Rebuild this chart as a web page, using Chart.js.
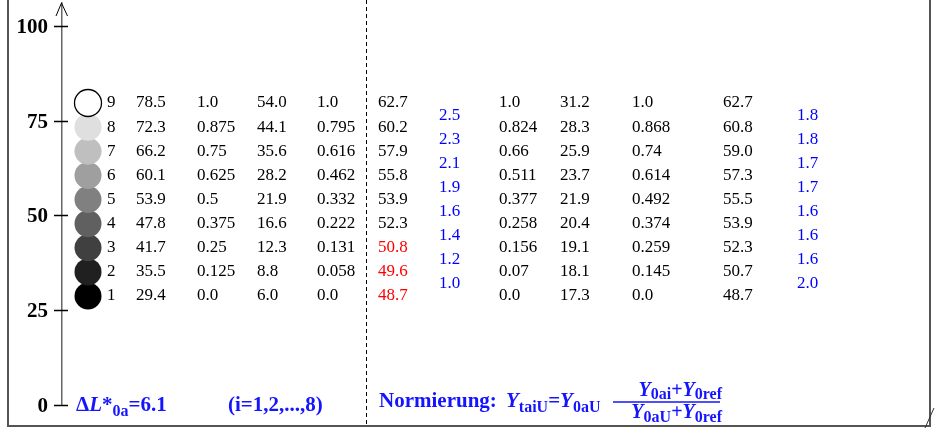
<!DOCTYPE html>
<html lang="de">
<head>
<meta charset="UTF-8">
<title>Graustufen 1 bis 9</title>
<script src="https://cdn.jsdelivr.net/npm/chart.js"></script>
<style>
  html, body { margin: 0; padding: 0; background: #fff; }
  #wrap { width: 936px; height: 428px; position: relative; }
</style>
</head>
<body>
<div id="wrap"><canvas id="chart"></canvas></div>
<script>
// --- data (row 1 = black ... row 9 = white) ---
const steps   = [1, 2, 3, 4, 5, 6, 7, 8, 9];
const lStar   = [29.4, 35.5, 41.7, 47.8, 53.9, 60.1, 66.2, 72.3, 78.5];
const grayRel = [0.0, 0.125, 0.25, 0.375, 0.5, 0.625, 0.75, 0.875, 1.0];
const yVal    = [6.0, 8.8, 12.3, 16.6, 21.9, 28.2, 35.6, 44.1, 54.0];
const yRel    = [0.0, 0.058, 0.131, 0.222, 0.332, 0.462, 0.616, 0.795, 1.0];
const lStarA  = [48.7, 49.6, 50.8, 52.3, 53.9, 55.8, 57.9, 60.2, 62.7];
const diffA   = [1.0, 1.2, 1.4, 1.6, 1.9, 2.1, 2.3, 2.5];
const yRelB   = [0.0, 0.07, 0.156, 0.258, 0.377, 0.511, 0.66, 0.824, 1.0];
const yValB   = [17.3, 18.1, 19.1, 20.4, 21.9, 23.7, 25.9, 28.3, 31.2];
const yRelC   = [0.0, 0.145, 0.259, 0.374, 0.492, 0.614, 0.74, 0.868, 1.0];
const lStarC  = [48.7, 50.7, 52.3, 53.9, 55.5, 57.3, 59.0, 60.8, 62.7];
const diffC   = [2.0, 1.6, 1.6, 1.6, 1.7, 1.7, 1.8, 1.8];
const yTicks  = [0, 25, 50, 75, 100];
const redRows = 3; // lowest three rows of lStarA are red

// --- layout ---
const serif = "'Liberation Serif', 'Times New Roman', serif";
const blue = '#1414ff';
const circleX = 88;
const rowMin = -3.517, rowMax = 13.146;

function fmt1(v) { return v.toFixed(1); }
function fmtRel(v) { return Number.isInteger(v) ? v.toFixed(1) : String(v); }
function grey(g) { const c = Math.round(g * 255); return `rgb(${c},${c},${c})`; }

const columns = [
  { x: 107, vals: steps,   f: String },
  { x: 136, vals: lStar,   f: fmt1 },
  { x: 197, vals: grayRel, f: fmtRel },
  { x: 257, vals: yVal,    f: fmt1 },
  { x: 317, vals: yRel,    f: fmtRel },
  { x: 378, vals: lStarA,  f: fmt1, red: true },
  { x: 499, vals: yRelB,   f: fmtRel },
  { x: 560, vals: yValB,   f: fmt1 },
  { x: 632, vals: yRelC,   f: fmtRel },
  { x: 723, vals: lStarC,  f: fmt1 }
];
const diffColumns = [
  { x: 439, vals: diffA },
  { x: 797, vals: diffC }
];

function runsWidth(ctx, runs) {
  let w = 0;
  for (const r of runs) { ctx.font = r.font; w += ctx.measureText(r.t).width; }
  return w;
}
function drawRuns(ctx, x, y, runs) {
  for (const r of runs) {
    ctx.font = r.font;
    ctx.fillText(r.t, x, y + (r.dy || 0));
    x += ctx.measureText(r.t).width;
  }
  return x;
}

const B21 = `bold 21px ${serif}`, BI21 = `italic bold 21px ${serif}`;
const B20 = `bold 20px ${serif}`, BI20 = `italic bold 20px ${serif}`;
const B16 = `bold 16px ${serif}`;

const overlay = {
  id: 'overlay',
  beforeDraw(chart) {
    const ctx = chart.ctx;
    ctx.save();
    // open frame
    ctx.strokeStyle = '#555';
    ctx.lineWidth = 2;
    ctx.beginPath();
    ctx.moveTo(8, 0); ctx.lineTo(8, 426); ctx.lineTo(930, 426); ctx.lineTo(930, 0);
    ctx.stroke();
    ctx.lineWidth = 1;
    ctx.strokeStyle = '#333';
    ctx.beginPath(); ctx.moveTo(934, 408); ctx.lineTo(925, 428); ctx.stroke();
    // dashed divider
    ctx.strokeStyle = '#000';
    ctx.setLineDash([4, 3]);
    ctx.beginPath(); ctx.moveTo(366.5, 0); ctx.lineTo(366.5, 426); ctx.stroke();
    ctx.restore();
  },
  afterDraw(chart) {
    const ctx = chart.ctx;
    const xs = chart.scales.x, ys = chart.scales.y, rs = chart.scales.yRow;
    const ax = chart.chartArea.left;
    ctx.save();
    // ticks crossing the axis, their labels, arrow
    ctx.strokeStyle = '#000';
    ctx.lineWidth = 1.5;
    ctx.fillStyle = '#000';
    ctx.font = B21;
    ctx.textAlign = 'right';
    ctx.textBaseline = 'middle';
    ctx.beginPath();
    yTicks.forEach(v => {
      const py = Math.round(ys.getPixelForValue(v)) + 0.5;
      ctx.moveTo(ax - 8, py); ctx.lineTo(ax + 6, py);
      ctx.fillText(String(v), ax - 14, py + 1);
    });
    ctx.stroke();
    ctx.lineWidth = 1;
    ctx.beginPath();
    ctx.moveTo(ax - 6, chart.chartArea.top + 13);
    ctx.lineTo(ax - 0.5, chart.chartArea.top);
    ctx.lineTo(ax + 5.5, chart.chartArea.top + 13);
    ctx.stroke();

    // table text
    ctx.textAlign = 'left';
    ctx.font = `17px ${serif}`;
    columns.forEach(col => {
      col.vals.forEach((v, i) => {
        ctx.fillStyle = col.red && i < redRows ? '#ff0000' : '#000';
        ctx.fillText(col.f(v), xs.getPixelForValue(col.x), rs.getPixelForValue(steps[i]));
      });
    });
    ctx.fillStyle = '#0000ff';
    diffColumns.forEach(col => {
      col.vals.forEach((v, i) => {
        ctx.fillText(fmt1(v), xs.getPixelForValue(col.x), rs.getPixelForValue(steps[i] + 0.5));
      });
    });

    // bottom notes
    ctx.textBaseline = 'alphabetic';
    ctx.fillStyle = blue;
    drawRuns(ctx, 76, 411, [
      { t: '\u0394', font: B21 }, { t: 'L', font: BI21 }, { t: '*', font: B21 },
      { t: '0a', font: B16, dy: 5 }, { t: '=6.1', font: B21 }
    ]);
    drawRuns(ctx, 228, 411, [{ t: '(i=1,2,...,8)', font: B21 }]);
    drawRuns(ctx, 379, 407, [{ t: 'Normierung:', font: B21 }]);
    drawRuns(ctx, 506, 407, [
      { t: 'Y', font: BI21 }, { t: 'taiU', font: B16, dy: 5 }, { t: '=', font: B21 },
      { t: 'Y', font: BI21 }, { t: '0aU', font: B16, dy: 5 }
    ]);
    const num = [
      { t: 'Y', font: BI20 }, { t: '0ai', font: B16, dy: 3 }, { t: '+', font: B20 },
      { t: 'Y', font: BI20 }, { t: '0ref', font: B16, dy: 3 }
    ];
    const den = [
      { t: 'Y', font: BI20 }, { t: '0aU', font: B16, dy: 4 }, { t: '+', font: B20 },
      { t: 'Y', font: BI20 }, { t: '0ref', font: B16, dy: 4 }
    ];
    drawRuns(ctx, 722 - runsWidth(ctx, num), 396, num);
    drawRuns(ctx, 722 - runsWidth(ctx, den), 418, den);
    ctx.strokeStyle = blue;
    ctx.lineWidth = 1.5;
    ctx.beginPath(); ctx.moveTo(613, 402); ctx.lineTo(720, 402); ctx.stroke();
    ctx.restore();
  }
};

new Chart(document.getElementById('chart'), {
  type: 'scatter',
  data: {
    datasets: [{
      data: steps.map(s => ({ x: circleX, y: s })),
      yAxisID: 'yRow',
      pointRadius: 13.5,
      pointHoverRadius: 13.5,
      backgroundColor: grayRel.map(grey),
      borderColor: grayRel.map(g => g === 1 ? '#000' : grey(g)),
      borderWidth: grayRel.map(g => g === 1 ? 1.3 : 0)
    }]
  },
  options: {
    responsive: true,
    maintainAspectRatio: false,
    animation: false,
    events: [],
    layout: { autoPadding: false, padding: { top: 3, bottom: 23, left: 0, right: 6 } },
    plugins: { legend: { display: false }, tooltip: { enabled: false } },
    scales: {
      x: { type: 'linear', min: 62, max: 930, display: false },
      yRow: { type: 'linear', min: rowMin, max: rowMax, display: false },
      y: {
        type: 'linear',
        position: 'left',
        min: 0,
        max: 106,
        afterBuildTicks: s => { s.ticks = yTicks.map(v => ({ value: v })); },
        afterFit: s => { s.width = 62; s.paddingTop = 0; s.paddingBottom = 0; },
        grid: { display: false, drawTicks: false },
        border: { display: true, color: '#666', width: 1.5 },
        ticks: { display: false }
      }
    }
  },
  plugins: [overlay]
});
</script>
</body>
</html>
